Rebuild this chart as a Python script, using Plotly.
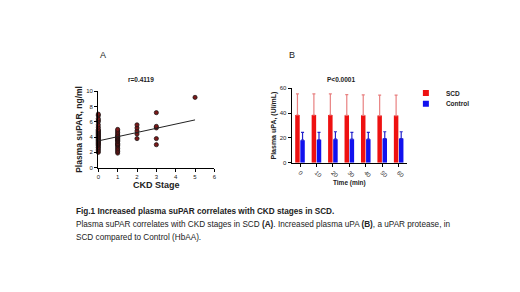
import plotly.graph_objects as go

# ---- Panel A data (CKD stage vs plasma suPAR, ng/ml) ----
ckd0_supar = [2.0, 2.2, 2.4, 2.6, 2.7, 2.9, 3.0, 3.1, 3.2, 3.3, 3.4, 3.5, 3.6, 3.7, 3.8,
              3.9, 4.0, 4.1, 4.2, 4.3, 4.4, 4.5, 4.6, 4.7, 4.8, 4.9, 5.0, 5.3, 5.6, 6.0,
              6.2, 6.4, 6.8, 7.0]
ckd1_supar = [1.9, 2.1, 2.3, 2.5, 2.7, 2.9, 3.0, 3.1, 3.2, 3.4, 3.5, 3.6, 3.7, 3.8, 3.9,
              4.0, 4.1, 4.2, 4.4, 4.6, 4.8, 5.0]
ckd2_supar = [3.8, 4.4, 4.8, 5.2, 5.6]
ckd3_supar = [3.0, 3.8, 5.2, 5.4, 7.2]
ckd5_supar = [9.2]
fit_intercept = 3.5
fit_slope = 0.55
fit_x = [0, 5]
r_label = "r=0.4119"

# ---- Panel B data (Plasma uPA, UI/mL) ----
time_labels = ["0", "10", "20", "30", "40", "50", "60"]
scd_mean = [38.5, 38.5, 38.5, 38.3, 38.2, 38.0, 38.0]
scd_sd = [17.0, 17.0, 17.0, 16.7, 16.6, 16.5, 16.5]
ctrl_mean = [18.2, 18.5, 19.0, 19.0, 19.0, 19.5, 19.5]
ctrl_sd = [6.3, 6.0, 6.0, 5.5, 5.5, 5.5, 5.5]
p_label = "P<0.0001"

# page body has an 8px margin -> draw on a 512x284 figure placed at (8, 8)
OFF = 8
W, H = 520 - OFF, 292 - OFF
FONT = "Liberation Sans"


def px(x):
    return (x - OFF) / W


def py(y):
    return 1 - (y - OFF) / H


xs, ys = [], []
for stage, vals in [(0, ckd0_supar), (1, ckd1_supar), (2, ckd2_supar), (3, ckd3_supar), (5, ckd5_supar)]:
    xs += [stage] * len(vals)
    ys += vals

RED, BLUE = "#ee1111", "#1111ee"

fig = go.Figure()

fig.add_trace(go.Scatter(
    x=xs, y=ys, mode="markers", xaxis="x", yaxis="y",
    marker=dict(size=4.2, color="#7a1a1a", line=dict(color="#111111", width=0.7)),
    cliponaxis=False, showlegend=False))
fig.add_trace(go.Scatter(
    x=fit_x, y=[fit_intercept + fit_slope * v for v in fit_x], mode="lines",
    xaxis="x", yaxis="y", line=dict(color="#222222", width=1),
    showlegend=False))

fig.add_trace(go.Bar(
    x=time_labels, y=scd_mean, name="SCD", xaxis="x2", yaxis="y2",
    marker=dict(color=RED, line=dict(width=0)), showlegend=False,
    error_y=dict(type="data", array=scd_sd, arrayminus=[0] * len(scd_sd),
                 color="#e88080", thickness=1.2, width=1.5)))
fig.add_trace(go.Bar(
    x=time_labels, y=ctrl_mean, name="Control", xaxis="x2", yaxis="y2",
    marker=dict(color=BLUE, line=dict(width=0)), showlegend=False,
    error_y=dict(type="data", array=ctrl_sd, arrayminus=[0] * len(ctrl_sd),
                 color="#2222cc", thickness=1.2, width=1.5)))
# legend entries (small swatches), one legend each to control spacing
for nm, col, lg in [("SCD", RED, "legend"), ("Control", BLUE, "legend2")]:
    fig.add_trace(go.Scatter(x=[None], y=[None], mode="markers", name="<b>" + nm + "</b>",
                             xaxis="x2", yaxis="y2", legend=lg,
                             marker=dict(symbol="square", size=6, color=col)))

axis_common = dict(showline=True, linecolor="black", linewidth=1.3, ticks="outside",
                   ticklen=3, tickcolor="black", tickwidth=1, showgrid=False,
                   zeroline=False, tickfont=dict(family=FONT, size=6, color="#222"))

legend_common = dict(xanchor="left", yanchor="top", font=dict(family=FONT, size=6.5, color="#222"),
                     bgcolor="rgba(0,0,0,0)", itemwidth=30)

fig.update_layout(
    width=W, height=H, margin=dict(l=0, r=0, t=0, b=0),
    paper_bgcolor="white", plot_bgcolor="white",
    barmode="group", bargap=0.38, bargroupgap=0.12,
    font=dict(family=FONT, color="#222"),
    xaxis=dict(domain=[px(97), px(214)], range=[0, 6], anchor="y",
               tickvals=[0, 1, 2, 3, 4, 5, 6],
               title=dict(text="<b>CKD Stage</b>", font=dict(family=FONT, size=9), standoff=2),
               **axis_common),
    yaxis=dict(domain=[py(168), py(90)], range=[0, 10], anchor="x",
               tickvals=[0, 2, 4, 6, 8, 10],
               title=dict(text="<b>Plasma suPAR, ng/ml</b>", font=dict(family=FONT, size=8.5), standoff=2),
               **axis_common),
    xaxis2=dict(domain=[px(292), px(408)], anchor="y2", tickangle=45,
                range=[-0.5, 6.5],
                title=dict(text="<b>Time (min)</b>", font=dict(family=FONT, size=6.5), standoff=2),
                **axis_common),
    yaxis2=dict(domain=[py(163), py(87)], range=[0, 60], anchor="x2",
                tickvals=[0, 20, 40, 60],
                title=dict(text="<b>Plasma uPA, (UI/mL)</b>", font=dict(family=FONT, size=7), standoff=2),
                **axis_common),
    legend=dict(x=px(407), y=py(77), **legend_common),
    legend2=dict(x=px(407), y=py(88), **legend_common),
)

annos = [
    dict(text="A", x=px(102), y=py(53), size=9),
    dict(text="B", x=px(292), y=py(53), size=9),
    dict(text="<b>" + r_label + "</b>", x=px(140), y=py(78), size=6.5),
    dict(text="<b>" + p_label + "</b>", x=px(342), y=py(78), size=6.5),
]
for a in annos:
    fig.add_annotation(text=a["text"], x=a["x"], y=a["y"], xref="paper", yref="paper",
                       showarrow=False, xanchor="center", yanchor="middle",
                       font=dict(family=FONT, size=a["size"], color="#222"))

caption = [
    ("<b>Fig.1 Increased plasma suPAR correlates with CKD stages in SCD.</b>", 213),
    ("Plasma suPAR correlates with CKD stages in SCD <b>(A)</b>. Increased plasma uPA <b>(B)</b>, a uPAR protease, in", 226),
    ("SCD compared to Control (HbAA).", 239),
]
for txt, yy in caption:
    fig.add_annotation(text=txt, x=px(73), y=py(yy), xref="paper", yref="paper",
                       showarrow=False, xanchor="left", yanchor="middle",
                       font=dict(family=FONT, size=8.2, color="#222"))

fig.write_html("out.html")
